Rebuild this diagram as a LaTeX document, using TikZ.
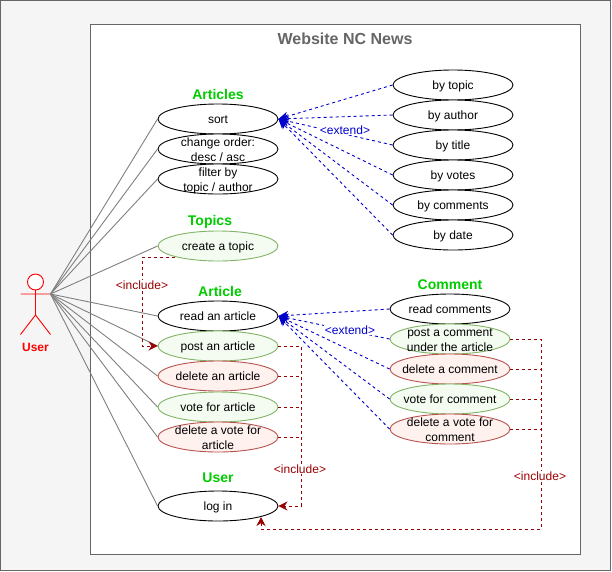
\documentclass[tikz,border=0pt]{standalone}
\usepackage{fontspec}
\setmainfont{Liberation Sans}
\usetikzlibrary{arrows.meta,shapes.geometric}
\definecolor{incl}{HTML}{990000}
\definecolor{ext}{HTML}{0000CC}
\definecolor{gfill}{HTML}{F4FCF1}
\definecolor{gline}{HTML}{82B366}
\definecolor{rfill}{HTML}{FEF1EE}
\definecolor{rline}{HTML}{B85450}
\definecolor{titlegreen}{HTML}{00CC00}
\definecolor{frame}{HTML}{666666}
\definecolor{page}{HTML}{F5F5F5}
\newcommand{\uctext}[1]{\makebox[0pt]{\smash{\raisebox{-0.38em}{\begin{tabular}{@{}c@{}}#1\end{tabular}}}}}
\tikzset{
  uc/.style={draw=black,fill=white,ellipse,minimum width=120pt,minimum height=30pt,inner sep=0pt,font=\fontsize{12}{15}\selectfont,line width=0.9pt},
  ucg/.style={uc,draw=gline,fill=gfill},
  ucr/.style={uc,draw=rline,fill=rfill},
  head/.style={font=\fontsize{14}{16}\bfseries\selectfont,text=titlegreen,inner sep=1pt},
  assoc/.style={draw=gray,line width=0.9pt},
  extarrow/.style={draw=ext,dash pattern=on 3pt off 3pt,line width=0.9pt,-{Stealth[length=10pt,width=9pt]}},
  inclline/.style={draw=incl,dash pattern=on 3pt off 3pt,line width=0.9pt},
  inclarrow/.style={inclline,-{Stealth[length=9pt,width=9pt]}},
  lblext/.style={fill=white,text=ext,font=\fontsize{12}{14}\selectfont,inner sep=1pt},
  lblinc/.style={fill=white,text=incl,font=\fontsize{12}{14}\selectfont,inner sep=1pt},
}
\begin{document}
\begin{tikzpicture}[x=1pt,y=-1pt]
\useasboundingbox (0,0) rectangle (612,571);
\draw[draw=frame,fill=page,line width=1pt] (0.5,0.5) rectangle (610.5,570.5);
\draw[draw=frame,fill=white,line width=1pt] (90.5,24.5) rectangle (580.5,554);
\node[font=\fontsize{16}{18}\bfseries\selectfont,text=frame] (title) at (345,39) {Website NC News};
% actor
\draw[red,line width=0.9pt,fill=white] (35.5,282) circle (8);
\draw[red,line width=0.9pt] (35.5,290) -- (35.5,315) (20.5,294) -- (50.5,294) (20.5,334.5) -- (35.5,315) -- (50.5,334.5);
\coordinate (actor) at (50.5,294);
\node[font=\fontsize{12}{14}\bfseries\selectfont,text=red] (userlabel) at (35.5,347.5) {User};
% titles
\node[head] (tArticles) at (218,94.5) {Articles};
\node[head] (tTopics) at (210,222) {Topics};
\node[head] (tArticle) at (220,291) {Article};
\node[head] (tUser) at (218,478) {User};
\node[head] (tComment) at (450,284.5) {Comment};
% use cases left
\node[uc] (sort) at (218,119) {\uctext{sort}};
\node[uc] (order) at (218,149) {\uctext{change order:\\ desc / asc}};
\node[uc] (filter) at (218,179) {\uctext{filter by\\topic / author}};
\node[ucg] (topic) at (218,246) {\uctext{create a topic}};
\node[uc] (read) at (218,316) {\uctext{read an article}};
\node[ucg] (post) at (218,346) {\uctext{post an article}};
\node[ucr] (del) at (218,376) {\uctext{delete an article}};
\node[ucg] (vote) at (218,407) {\uctext{vote for article}};
\node[ucr] (delvote) at (218,437) {\uctext{delete a vote for\\article}};
\node[uc] (login) at (218,506) {\uctext{log in}};
% use cases sort
\node[uc] (bytopic) at (453,85) {\uctext{by topic}};
\node[uc] (byauthor) at (453,115) {\uctext{by author}};
\node[uc] (bytitle) at (453,145) {\uctext{by title}};
\node[uc] (byvotes) at (453,175) {\uctext{by votes}};
\node[uc] (bycomments) at (453,205) {\uctext{by comments}};
\node[uc] (bydate) at (453,235) {\uctext{by date}};
% comments
\node[uc] (rc) at (450,309) {\uctext{read comments}};
\node[ucg] (pc) at (450,339) {\uctext{post a comment\\under the article}};
\node[ucr] (dc) at (450,369) {\uctext{delete a comment}};
\node[ucg] (vc) at (450,399) {\uctext{vote for comment}};
\node[ucr] (dvc) at (450,429) {\uctext{delete a vote for\\comment}};
% associations
\foreach \t in {sort,order,filter,topic,read,post,del,vote,delvote,login}
  \draw[assoc] (actor) -- (\t.west);
% extend
\foreach \t in {bytopic,byauthor,bytitle,byvotes,bycomments,bydate}
  \draw[extarrow] (\t.west) -- (sort.east);
\foreach \t in {rc,pc,dc,vc,dvc}
  \draw[extarrow] (\t.west) -- (read.east);
\node[lblext] (le1) at (345,130) {<extend>};
\node[lblext] (le2) at (350,330) {<extend>};
% include
\coordinate (tb) at (175,257);
\coordinate (bus1) at (301,346);
\coordinate (bus2) at (541,339);
\draw[inclarrow] (tb) -- (142.5,257) -- (142.5,346) -- (post.west);
\node[lblinc] (li1) at (142,285) {<include>};
\draw[inclarrow] (post.east) -- (bus1) -- (301,506) -- (login.east);
\draw[inclline] (del.east) -- (301,376);
\draw[inclline] (vote.east) -- (301,407);
\draw[inclline] (delvote.east) -- (301,437);
\node[lblinc] (li2) at (300,469) {<include>};
\coordinate (lg) at (261,517);
\draw[inclarrow] (pc.east) -- (bus2) -- (541,529) -- (261,529) -- (lg);
\draw[inclline] (dc.east) -- (541,369);
\draw[inclline] (vc.east) -- (541,399);
\draw[inclline] (dvc.east) -- (541,429);
\node[lblinc] (li3) at (540,476) {<include>};
\end{tikzpicture}
\end{document}
